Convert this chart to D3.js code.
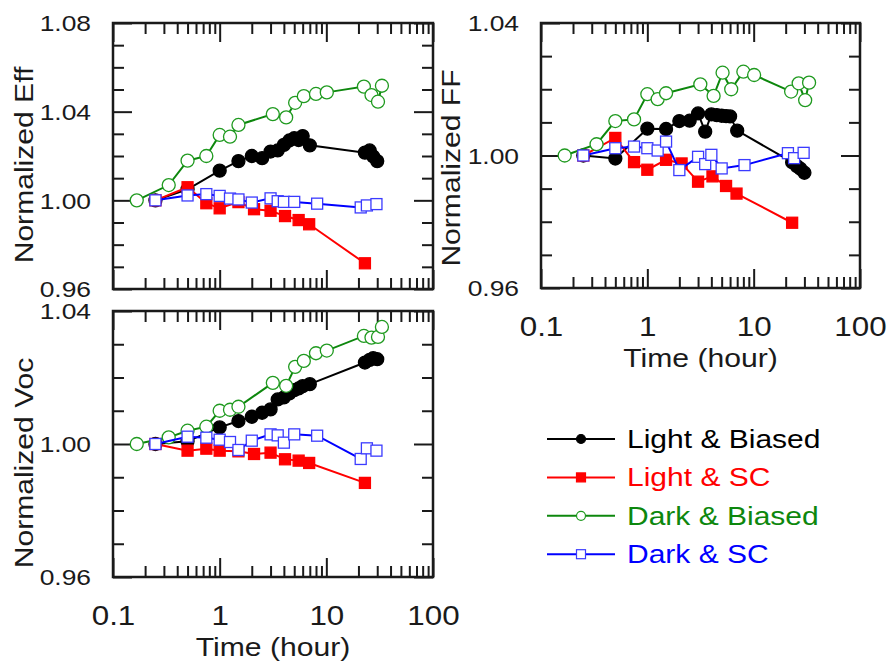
<!DOCTYPE html>
<html>
<head>
<meta charset="utf-8">
<script src="https://cdn.jsdelivr.net/npm/d3@7"></script>
<style>
    body { margin: 0; background: #fff; }
    svg { display: block; font-family: "Liberation Sans", Arial, sans-serif; }
</style>
</head>
<body>
<svg id="chart" width="891" height="664"></svg>
<script>
// Light & Biased
const tLightBiased   = [0.25, 0.5, 1, 1.5, 2, 2.5, 3, 3.5, 4, 4.5, 5, 5.5, 6, 7, 23, 25.5, 27.5, 30];
const effLightBiased = [1.000, 1.005, 1.0134, 1.0177, 1.020, 1.019, 1.022, 1.0225, 1.025, 1.027, 1.028, 1.0272, 1.029, 1.0248, 1.0215, 1.0225, 1.0198, 1.0177];
const ffLightBiased  = [1.000, 0.9991, 1.0081, 1.0080, 1.0104, 1.0105, 1.0127, 1.0072, 1.0124, 1.0122, 1.012, 1.0119, 1.0118, 1.0075, 0.998, 0.9968, 0.996, 0.9948];
const vocLightBiased = [1.000, 1.0008, 1.005, 1.0069, 1.0082, 1.0094, 1.0104, 1.0134, 1.014, 1.0152, 1.0162, 1.0167, 1.0174, 1.018, 1.0245, 1.0253, 1.0258, 1.0255];

// Light & SC
const tLightSC   = [0.25, 0.5, 0.75, 1, 1.5, 2.1, 3, 4.1, 5.5, 6.9, 23];
const effLightSC = [1.000, 1.0059, 0.9987, 0.9964, 0.9992, 0.996, 0.9953, 0.9929, 0.9911, 0.9892, 0.9716];
const ffLightSC  = [1.000, 1.0053, 0.998, 0.9957, 0.9987, 0.9976, 0.9921, 0.9937, 0.9908, 0.9885, 0.9797];
const vocLightSC = [1.000, 0.998, 0.9986, 0.998, 0.9978, 0.997, 0.9974, 0.9954, 0.995, 0.9943, 0.9883];

// Dark & Biased
const tDarkBiased   = [0.167, 0.333, 0.5, 0.75, 1, 1.25, 1.5, 3.15, 4.2, 5.1, 6.15, 8, 10.1, 22.5, 26.5, 30.5, 33.2];
const effDarkBiased = [1.000, 1.0069, 1.0179, 1.020, 1.0295, 1.0287, 1.034, 1.0389, 1.0374, 1.044, 1.047, 1.048, 1.0487, 1.0513, 1.0475, 1.0445, 1.0517];
const ffDarkBiased  = [1.000, 1.0034, 1.0104, 1.0109, 1.0185, 1.017, 1.0188, 1.0215, 1.018, 1.025, 1.020, 1.0253, 1.0243, 1.0193, 1.0218, 1.0167, 1.022];
const vocDarkBiased = [1.000, 1.002, 1.004, 1.0052, 1.010, 1.0103, 1.0112, 1.0184, 1.0175, 1.0232, 1.025, 1.0273, 1.0281, 1.0325, 1.032, 1.0322, 1.0352];

// Dark & SC
const tDarkSC   = [0.25, 0.5, 0.75, 1, 1.25, 1.5, 2, 3, 3.5, 4, 5, 8.2, 21, 24, 29.5];
const effDarkSC = [1.000, 1.0022, 1.0028, 1.002, 1.0008, 1.0004, 0.999, 1.0009, 0.9996, 0.9993, 0.9993, 0.9985, 0.9968, 0.9977, 0.9983];
const ffDarkSC  = [1.000, 1.0022, 1.0027, 1.0022, 1.0015, 1.0042, 0.9956, 0.9996, 0.9974, 1.0002, 0.9961, 0.9971, 1.0007, 0.9992, 1.0008];
const vocDarkSC = [1.000, 1.0022, 1.0019, 1.0013, 1.0006, 0.9982, 1.001, 1.0029, 1.0026, 1.0004, 1.0029, 1.0025, 0.9955, 0.9987, 0.998];

const seriesNames = ["Light & Biased", "Light & SC", "Dark & Biased", "Dark & SC"];
const xMajorTicks = [0.1, 1, 10, 100];
const effLabels = [0.96, 1.00, 1.04, 1.08];
const ffLabels = [0.96, 1.00, 1.04];
const vocLabels = [0.96, 1.00, 1.04];

const series = [
    { name: seriesNames[0], t: tLightBiased, eff: effLightBiased, ff: ffLightBiased, voc: vocLightBiased,
      color: "#000", marker: "circle", fill: "#000", stroke: "#000" },
    { name: seriesNames[1], t: tLightSC, eff: effLightSC, ff: ffLightSC, voc: vocLightSC,
      color: "#ff0000", marker: "square", fill: "#ff0000", stroke: "#ff0000" },
    { name: seriesNames[2], t: tDarkBiased, eff: effDarkBiased, ff: ffDarkBiased, voc: vocDarkBiased,
      color: "#0d870d", marker: "circle", fill: "#fff", stroke: "#1f9a1f" },
    { name: seriesNames[3], t: tDarkSC, eff: effDarkSC, ff: ffDarkSC, voc: vocDarkSC,
      color: "#0000ff", marker: "square", fill: "#fff", stroke: "#3b3bff" }
];

const panels = [
    { key: "eff", title: "Normalized Eff", left: 113, top: 23, width: 320, height: 266,
      yDomain: [0.96, 1.08], yLabels: effLabels, titleX: 33, titleY: 165, xLabels: false },
    { key: "ff", title: "Normalized FF", left: 541, top: 23, width: 319, height: 265,
      yDomain: [0.96, 1.04], yLabels: ffLabels, titleX: 460, titleY: 168, xLabels: true },
    { key: "voc", title: "Normalized Voc", left: 113, top: 311, width: 320, height: 266,
      yDomain: [0.96, 1.04], yLabels: vocLabels, titleX: 33, titleY: 463, xLabels: true }
];

const MAJOR = 19, MINOR = 11;
const INK = "#1a1a1a";
const svg = d3.select("#chart");

svg.append("rect").attr("width", 891).attr("height", 664).attr("fill", "#fff");

// minor log ticks 0.1 .. 100
const xTickVals = [];
[0.1, 1, 10].forEach(dec => d3.range(1, 10).forEach(k => xTickVals.push(+(k * dec).toPrecision(3))));
xTickVals.push(100);
const isMajorX = v => xMajorTicks.some(m => Math.abs(m - v) < 1e-9);

function styleAxis(g) {
    g.select(".domain").remove();
    g.selectAll(".tick line").attr("stroke", INK).attr("stroke-width", 2);
}

function drawPanel(p) {
    const g = svg.append("g").attr("transform", `translate(${p.left},${p.top})`);
    const x = d3.scaleLog().domain([0.1, 100]).range([0, p.width]);
    const y = d3.scaleLinear().domain(p.yDomain).range([p.height, 0]);

    const n = Math.round((p.yDomain[1] - p.yDomain[0]) / 0.01);
    const yTickVals = d3.range(n + 1).map(i => +(p.yDomain[0] + i * 0.01).toFixed(2));
    const isMajorY = v => p.yLabels.some(l => Math.abs(l - v) < 1e-6);

    // left axis with labels
    const gl = g.append("g")
        .call(d3.axisLeft(y).tickValues(yTickVals).tickSizeInner(-MINOR).tickSizeOuter(0)
            .tickFormat(d => isMajorY(d) ? d3.format(".2f")(d) : ""));
    styleAxis(gl);
    gl.selectAll(".tick line").attr("x2", d => isMajorY(d) ? MAJOR : MINOR);
    gl.selectAll(".tick text")
        .attr("x", 0).attr("dy", "0.36em")
        .attr("transform", "translate(-22,0) scale(1.2,1)")
        .attr("fill", INK).style("font-size", "22px");

    // right axis
    const gr = g.append("g").attr("transform", `translate(${p.width},0)`)
        .call(d3.axisRight(y).tickValues(yTickVals).tickSizeInner(-MINOR).tickSizeOuter(0).tickFormat(""));
    styleAxis(gr);
    gr.selectAll(".tick line").attr("x2", d => isMajorY(d) ? -MAJOR : -MINOR);

    // top axis
    const gt = g.append("g")
        .call(d3.axisTop(x).tickValues(xTickVals).tickSizeInner(-MINOR).tickSizeOuter(0).tickFormat(""));
    styleAxis(gt);
    gt.selectAll(".tick line").attr("y2", d => isMajorX(d) ? MAJOR : MINOR);

    // bottom axis
    const gb = g.append("g").attr("transform", `translate(0,${p.height})`)
        .call(d3.axisBottom(x).tickValues(xTickVals).tickSizeInner(-MINOR).tickSizeOuter(0)
            .tickFormat(d => (p.xLabels && isMajorX(d)) ? d3.format("~g")(d) : ""));
    styleAxis(gb);
    gb.selectAll(".tick line").attr("y2", d => isMajorX(d) ? -MAJOR : -MINOR);
    gb.selectAll(".tick text")
        .attr("y", 0).attr("dy", 0)
        .attr("transform", "translate(0,48) scale(1.12,1)")
        .attr("fill", INK).style("font-size", "28px");

    // frame
    g.append("rect")
        .attr("width", p.width).attr("height", p.height)
        .attr("fill", "none").attr("stroke", INK).attr("stroke-width", 2.5);

    if (p.xLabels) {
        g.append("text")
            .attr("transform", `translate(${p.width / 2},${p.height + 79}) scale(1.16,1)`)
            .attr("text-anchor", "middle")
            .attr("fill", INK).style("font-size", "26px")
            .text("Time (hour)");
    }

    // y title (absolute coords)
    svg.append("text")
        .attr("transform", `translate(${p.titleX},${p.titleY}) rotate(-90) scale(1.18,1)`)
        .attr("text-anchor", "middle")
        .attr("fill", INK).style("font-size", "25.5px")
        .text(p.title);

    const line = d3.line().x(d => x(d.t)).y(d => y(d.v));

    series.forEach(s => {
        const pts = s.t.map((t, i) => ({ t: t, v: s[p.key][i] }));
        g.append("path")
            .datum(pts)
            .attr("d", line)
            .attr("fill", "none")
            .attr("stroke", s.color)
            .attr("stroke-width", 2);
        drawMarkers(g, pts, s, x, y, 6.5, 11);
    });
}

function drawMarkers(g, pts, s, x, y, r, side) {
    if (s.marker === "circle") {
        g.selectAll(null).data(pts).enter().append("circle")
            .attr("cx", d => x(d.t)).attr("cy", d => y(d.v))
            .attr("r", r)
            .attr("fill", s.fill).attr("stroke", s.stroke).attr("stroke-width", 1.3);
    } else {
        g.selectAll(null).data(pts).enter().append("rect")
            .attr("x", d => x(d.t) - side / 2).attr("y", d => y(d.v) - side / 2)
            .attr("width", side).attr("height", side)
            .attr("fill", s.fill).attr("stroke", s.stroke).attr("stroke-width", 1.3);
    }
}

panels.forEach(drawPanel);

// legend
const legend = svg.append("g").attr("transform", "translate(547,439)");
series.forEach((s, i) => {
    const row = legend.append("g").attr("transform", `translate(0,${i * 38.4})`);
    row.append("line").attr("x1", 0).attr("x2", 68)
        .attr("stroke", s.color).attr("stroke-width", 2);
    if (s.marker === "circle") {
        row.append("circle").attr("cx", 34).attr("cy", 0).attr("r", 4.5)
            .attr("fill", s.fill).attr("stroke", s.stroke).attr("stroke-width", 1.2);
    } else {
        row.append("rect").attr("x", 34 - 4.5).attr("y", -4.5).attr("width", 9).attr("height", 9)
            .attr("fill", s.fill).attr("stroke", s.stroke).attr("stroke-width", 1.2);
    }
    row.append("text")
        .attr("transform", "translate(80,0) scale(1.2,1)")
        .attr("dy", "0.36em")
        .attr("fill", s.color)
        .style("font-size", "25px")
        .text(s.name);
});
</script>
</body>
</html>
